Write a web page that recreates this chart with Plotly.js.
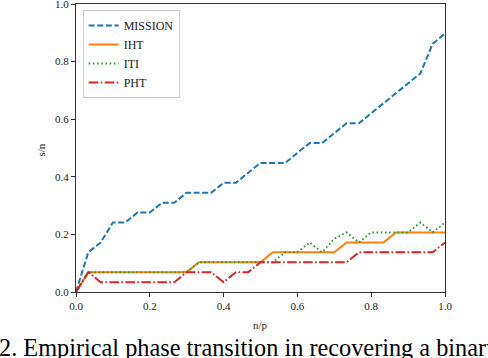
<!DOCTYPE html>
<html>
<head>
<meta charset="utf-8">
<script src="https://cdn.plot.ly/plotly-3.0.1.min.js"></script>
<style>html,body{margin:0;padding:0;background:#fff;}#chart{width:488px;height:358px;}</style>
</head>
<body>
<div id="chart"></div>
<script>
// n/p grid: 31 points, 0 .. 1 in steps of 1/30
const nOverP = [0,0.0333,0.0667,0.1,0.1333,0.1667,0.2,0.2333,0.2667,0.3,0.3333,0.3667,0.4,0.4333,0.4667,0.5,0.5333,0.5667,0.6,0.6333,0.6667,0.7,0.7333,0.7667,0.8,0.8333,0.8667,0.9,0.9333,0.9667,1.0];
const mission = [0,0.138,0.172,0.241,0.241,0.276,0.276,0.310,0.310,0.345,0.345,0.345,0.379,0.379,0.414,0.448,0.448,0.448,0.483,0.517,0.517,0.552,0.586,0.586,0.621,0.655,0.690,0.724,0.759,0.862,0.897];
const iht = [0,0.069,0.069,0.069,0.069,0.069,0.069,0.069,0.069,0.069,0.103,0.103,0.103,0.103,0.103,0.103,0.138,0.138,0.138,0.138,0.138,0.138,0.172,0.172,0.172,0.172,0.207,0.207,0.207,0.207,0.207];
const iti = [0,0.069,0.069,0.069,0.069,0.069,0.069,0.069,0.069,0.069,0.103,0.103,0.103,0.103,0.103,0.103,0.103,0.138,0.138,0.172,0.138,0.185,0.207,0.172,0.207,0.207,0.207,0.207,0.241,0.207,0.241];
const pht = [0,0.069,0.034,0.034,0.034,0.034,0.034,0.034,0.034,0.069,0.069,0.069,0.034,0.069,0.069,0.103,0.103,0.103,0.103,0.103,0.103,0.103,0.103,0.138,0.138,0.138,0.138,0.138,0.138,0.138,0.172];
const seriesNames = ["MISSION","IHT","ITI","PHT"];
const tickVals = [0,0.2,0.4,0.6,0.8,1.0];
const tickText = ["0.0","0.2","0.4","0.6","0.8","1.0"];
const xTitle = "n/p";
const yTitle = "s/n";
const captionText = "2. Empirical phase transition in recovering a binary";

const serif = "Liberation Serif, DejaVu Serif, serif";
const traces = [
  {x:nOverP, y:mission, name:seriesNames[0], mode:"lines", line:{color:"#1f77b4", width:2, dash:"6px,2.6px"}},
  {x:nOverP, y:iht, name:seriesNames[1], mode:"lines", line:{color:"#ff7f0e", width:2}},
  {x:nOverP, y:iti, name:seriesNames[2], mode:"lines", line:{color:"#2ca02c", width:2, dash:"1.6px,2.6px"}},
  {x:nOverP, y:pht, name:seriesNames[3], mode:"lines", line:{color:"#d62728", width:2, dash:"9.6px,2.4px,1.6px,2.4px"}}
];
const axisCommon = {
  showgrid:false, zeroline:false, showline:true, linecolor:"#333", linewidth:1,
  mirror:true, ticks:"outside", ticklen:4, tickwidth:1, tickcolor:"#333", ticklabeloverflow:"allow",
  tickvals:tickVals, ticktext:tickText, tickfont:{family:serif, size:11, color:"#222"}
};
const titleFont = {family:serif, size:11, color:"#222"};
const layout = {
  width:488, height:358,
  margin:{l:75.5, r:42.5, t:4, b:66, pad:0},
  paper_bgcolor:"#fff", plot_bgcolor:"#fff",
  showlegend:true,
  legend:{x:0.018, y:0.979, xanchor:"left", yanchor:"top", bgcolor:"#fff", bordercolor:"#ccc", borderwidth:1,
          font:{family:serif, size:12, color:"#222"}, tracegroupgap:0, itemwidth:30},
  xaxis:Object.assign({}, axisCommon, {range:[0,1]}),
  yaxis:Object.assign({}, axisCommon, {range:[0,1]}),
  annotations:[
    {text:xTitle, xref:"paper", yref:"paper", x:0.5, y:-0.1146, xanchor:"center", yanchor:"middle", showarrow:false, font:titleFont},
    {text:yTitle, xref:"paper", yref:"paper", x:-0.096, y:0.493, xanchor:"center", yanchor:"middle", textangle:-90, showarrow:false, font:titleFont},
    {text:captionText, xref:"paper", yref:"paper", x:-0.2149, y:-0.1917, xanchor:"left", yanchor:"middle",
     showarrow:false, font:{family:serif, size:24.3, color:"#000"}}
  ]
};
Plotly.newPlot("chart", traces, layout, {displayModeBar:false, staticPlot:true});
</script>
</body>
</html>
